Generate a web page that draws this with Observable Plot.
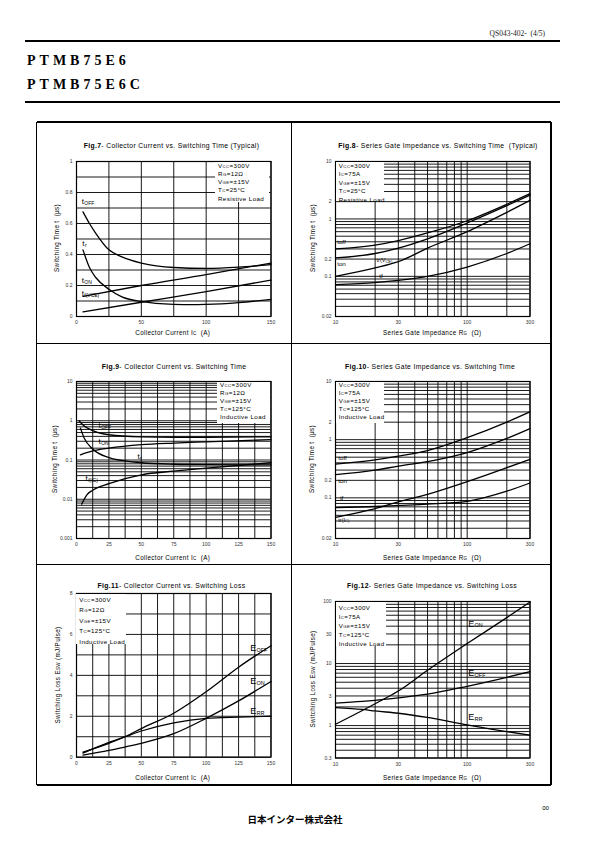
<!DOCTYPE html>
<html>
<head>
<meta charset="utf-8">
<script src="https://cdn.jsdelivr.net/npm/d3@7"></script>
<script src="https://cdn.jsdelivr.net/npm/@observablehq/plot@0.6"></script>
<style>
html,body{margin:0;padding:0;background:#fff;}
#page{position:relative;width:595px;height:842px;overflow:hidden;background:#fff;font-family:"Liberation Sans",Arial,Helvetica,sans-serif;color:#000;}
.a{position:absolute;white-space:nowrap;}
.s{font-size:70%;}
.hl{position:absolute;background:#000;}
.lg{position:absolute;background:#fff;font-size:6.2px;letter-spacing:0.4px;box-sizing:border-box;white-space:nowrap;}
</style>
</head>
<body>
<div id="page"></div>
<script>
const FONT = '"Liberation Sans", Arial, Helvetica, sans-serif';

// ---------- Fig.7 : Collector current vs switching time (typical) ----------
const f7_toff_ic = [5, 10, 15, 25, 35, 50, 75, 100, 125, 150];
const f7_toff_t  = [0.675, 0.6, 0.535, 0.43, 0.385, 0.345, 0.316, 0.31, 0.318, 0.335];
const f7_tr_ic   = [5, 10, 15, 25, 35, 50, 75, 90, 100, 125, 150];
const f7_tr_t    = [0.43, 0.316, 0.25, 0.176, 0.127, 0.097, 0.078, 0.076, 0.078, 0.09, 0.11];
const f7_ton_ic  = [5, 50, 100, 150];
const f7_ton_t   = [0.13, 0.2, 0.27, 0.345];
const f7_tf_ic   = [5, 50, 100, 150];
const f7_tf_t    = [0.03, 0.092, 0.16, 0.235];

// ---------- Fig.8 : Series gate impedance vs switching time (typical) ----------
const f8_rg   = [10, 20, 30, 50, 100, 200, 300];
const f8_toff = [0.3, 0.35, 0.42, 0.57, 0.93, 1.8, 2.75];
const f8_ton  = [0.21, 0.25, 0.31, 0.45, 0.85, 1.7, 2.6];
const f8_tr   = [0.1, 0.14, 0.18, 0.31, 0.6, 1.3, 2.1];
const f8_tf   = [0.072, 0.078, 0.085, 0.1, 0.145, 0.25, 0.37];

// ---------- Fig.9 : Collector current vs switching time ----------
const f9_toff_ic = [2, 5, 12.5, 25, 50, 75, 100, 150];
const f9_toff_t  = [1.0, 0.78, 0.56, 0.44, 0.39, 0.38, 0.38, 0.39];
const f9_ton_ic  = [3, 12.5, 25, 50, 75, 100, 150];
const f9_ton_t   = [0.135, 0.17, 0.2, 0.245, 0.27, 0.29, 0.33];
const f9_tr_ic   = [3, 6, 12.5, 25, 37.5, 50, 75, 100, 150];
const f9_tr_t    = [0.65, 0.36, 0.19, 0.115, 0.095, 0.085, 0.078, 0.076, 0.075];
const f9_tf_ic   = [4, 8, 12.5, 25, 50, 75, 100, 150];
const f9_tf_t    = [0.0075, 0.013, 0.017, 0.025, 0.042, 0.052, 0.062, 0.085];

// ---------- Fig.10 : Series gate impedance vs switching time ----------
const f10_rg   = [10, 20, 30, 50, 100, 200, 300];
const f10_toff = [0.38, 0.45, 0.52, 0.65, 1.08, 2.0, 3.0];
const f10_ton  = [0.25, 0.3, 0.35, 0.42, 0.6, 1.05, 1.55];
const f10_tf   = [0.046, 0.065, 0.085, 0.115, 0.19, 0.33, 0.46];
const f10_tr   = [0.068, 0.071, 0.074, 0.078, 0.087, 0.13, 0.18];

// ---------- Fig.11 : Collector current vs switching loss ----------
const f11_ic   = [5, 25, 37.5, 50, 75, 100, 125, 150];
const f11_eoff = [0.25, 0.68, 1.0, 1.4, 2.15, 3.2, 4.4, 5.45];
const f11_eon  = [0.1, 0.33, 0.5, 0.68, 1.15, 1.9, 2.75, 3.7];
const f11_err  = [0.2, 0.72, 1.0, 1.28, 1.68, 1.9, 1.96, 2.0];

// ---------- Fig.12 : Series gate impedance vs switching loss ----------
const f12_rg   = [10, 16, 20, 30, 50, 100, 200, 300];
const f12_eon  = [1.05, 1.75, 2.25, 3.6, 7.8, 21, 55, 98];
const f12_eoff = [2.3, 2.45, 2.55, 2.8, 3.2, 4.3, 6.0, 7.4];
const f12_err  = [1.95, 1.82, 1.72, 1.58, 1.35, 1.03, 0.8, 0.7];

// ---------- tick values ----------
const ticksIc50   = [0, 50, 100, 150];
const ticksIc25   = [0, 25, 50, 75, 100, 125, 150];
const gridIc25    = [0, 25, 50, 75, 100, 125, 150];
const gridIc12    = [0, 12.5, 25, 37.5, 50, 62.5, 75, 87.5, 100, 112.5, 125, 137.5, 150];
const ticksRg     = [10, 30, 100, 300];
const gridRg      = [10, 20, 30, 40, 50, 60, 70, 80, 90, 100, 200, 300];
const ticksT7     = [0, 0.2, 0.4, 0.6, 0.8, 1];
const gridT7      = [0, 0.1, 0.2, 0.3, 0.4, 0.5, 0.6, 0.7, 0.8, 0.9, 1];
const ticksTlog   = [0.02, 0.05, 0.1, 0.2, 0.5, 1, 2, 5, 10];
const ticksT9     = [0.001, 0.01, 0.1, 1, 10];
const ticksE11    = [0, 2, 4, 6, 8];
const gridE11     = [0, 1, 2, 3, 4, 5, 6, 7, 8];
const ticksE12    = [0.3, 1, 3, 10, 30, 100];

// log grid lines 1..9 per decade within [lo, hi]
function logGrid(lo, hi) {
  const out = [];
  for (let e = -4; e <= 3; e++) for (let k = 1; k <= 9; k++) {
    const v = +(k * Math.pow(10, e)).toPrecision(3);
    if (v >= lo - 1e-12 && v <= hi + 1e-12) out.push(v);
  }
  return out;
}

// ---------- legends ----------
const S = t => `<span class="s">${t}</span>`;
const leg7  = [`V${S("CC")}=300V`, `R${S("G")}=12Ω`, `V${S("GE")}=±15V`, `T${S("C")}=25°C`, `Resistive Load`];
const leg8  = [`V${S("CC")}=300V`, `I${S("C")}=75A`, `V${S("GE")}=±15V`, `T${S("C")}=25°C`, `Resistive Load`];
const leg9  = [`V${S("CC")}=300V`, `R${S("G")}=12Ω`, `V${S("GE")}=±15V`, `T${S("C")}=125°C`, `Inductive Load`];
const leg10 = [`V${S("CC")}=300V`, `I${S("C")}=75A`, `V${S("GE")}=±15V`, `T${S("C")}=125°C`, `Inductive Load`];
const leg11 = [`V${S("CC")}=300V`, `R${S("G")}=12Ω`, `V${S("GE")}=±15V`, `T${S("C")}=125°C`, `Inductive Load`];
const leg12 = [`V${S("CC")}=300V`, `I${S("C")}=75A`, `V${S("GE")}=±15V`, `T${S("C")}=125°C`, `Inductive Load`];

const page = document.getElementById("page");
function div(cls, css, html) {
  const d = document.createElement("div");
  if (cls) d.className = cls;
  d.style.cssText = css;
  d.innerHTML = html || "";
  page.appendChild(d);
  return d;
}
// text centred (anchor c), left (l) or right (r) at x, vertically centred at y
function txt(html, x, y, css, anchor) {
  const tr = anchor === "l" ? "translate(0,-50%)" : anchor === "r" ? "translate(-100%,-50%)" : "translate(-50%,-50%)";
  return div("a", `left:${x}px;top:${y}px;transform:${tr};${css || ""}`, html);
}
function vtxt(html, x, y, css) {
  return div("a", `left:${x}px;top:${y}px;transform:translate(-50%,-50%) rotate(-90deg);${css || ""}`, html);
}
function hline(x, y, w, t) { div("hl", `left:${x}px;top:${y - t / 2}px;width:${w}px;height:${t}px;`); }
function vline(x, y, h, t) { div("hl", `left:${x - t / 2}px;top:${y}px;width:${t}px;height:${h}px;`); }

const TITLE_CSS = "font-size:6.8px;letter-spacing:0.35px;";
const AXL_CSS = "font-size:6.3px;letter-spacing:0.35px;";

function chart(c) {
  const mL = 30, mR = 8, mT = 6, mB = 14;
  const w = c.x1 - c.x0, h = c.y1 - c.y0;
  const fmt = d3.format("~g");
  const marks = [
    Plot.ruleX(c.xGrid, {stroke: "#000", strokeWidth: 0.9}),
    Plot.ruleY(c.yGrid, {stroke: "#000", strokeWidth: 0.9})
  ];
  c.series.forEach(([xs, ys]) => {
    marks.push(Plot.line(xs.map((x, i) => ({x, y: ys[i]})),
      {x: "x", y: "y", curve: "monotone-x", stroke: "#000", strokeWidth: 1.3}));
  });
  marks.push(Plot.frame({stroke: "#000", strokeWidth: 1.2}));
  c.labels.forEach(L => {
    marks.push(Plot.text([L], {x: "x", y: "y", text: "m", textAnchor: "start", fontSize: L.fs, fill: "#000"}));
    if (L.s) marks.push(Plot.text([L], {x: "x", y: "y", text: "s", textAnchor: "start", fontSize: L.ss, dx: L.dx, dy: L.dy, fill: "#000"}));
  });
  const svg = Plot.plot({
    width: w + mL + mR, height: h + mT + mB,
    marginLeft: mL, marginRight: mR, marginTop: mT, marginBottom: mB,
    x: {type: c.xType, domain: c.xDomain, ticks: c.xTicks, tickFormat: fmt, tickSize: 0, tickPadding: 4, label: null},
    y: {type: c.yType, domain: c.yDomain, ticks: c.yTicks, tickFormat: fmt, tickSize: 0, tickPadding: 4, label: null},
    style: {fontFamily: FONT, fontSize: "5px", color: "#333", background: "none", overflow: "visible"},
    marks
  });
  svg.style.position = "absolute";
  svg.style.left = (c.x0 - mL) + "px";
  svg.style.top = (c.y0 - mT) + "px";
  page.appendChild(svg);
  // legend box
  const g = c.legend;
  div("lg", `left:${g.l}px;top:${g.t}px;width:${g.w}px;height:${g.h}px;line-height:${g.lh}px;padding:${g.pt}px 0 0 3px;`, g.lines.join("<br>"));
  // title, axis labels
  txt(c.title, c.tx, c.ty, TITLE_CSS);
  txt(c.xlabel, (c.x0 + c.x1) / 2, c.xly, AXL_CSS);
  vtxt(c.ylabel, c.ylx, (c.y0 + c.y1) / 2, AXL_CSS);
}

const tl = (x, y, s) => ({x, y, m: "t", s, fs: 8, ss: 5, dx: 2.6, dy: 1.8});
const el = (x, y, s) => ({x, y, m: "E", s, fs: 9, ss: 5.5, dx: 6.2, dy: 2});
const pl = (x, y, m) => ({x, y, m, fs: 6.2});

const L = 75.5, R = 270, L2 = 335, R2 = 529.5;
const sw = `Switching Time t&nbsp; (μs)`;
const icl = `Collector Current I${S("C")}&nbsp; (A)`;
const rgl = `Series Gate Impedance R${S("G")}&nbsp; (Ω)`;

chart({
  x0: L, x1: R, y0: 160.7, y1: 315.7,
  xType: "linear", xDomain: [0, 150], xTicks: ticksIc50, xGrid: gridIc25,
  yType: "linear", yDomain: [0, 1], yTicks: ticksT7, yGrid: gridT7,
  series: [[f7_toff_ic, f7_toff_t], [f7_tr_ic, f7_tr_t], [f7_ton_ic, f7_ton_t], [f7_tf_ic, f7_tf_t]],
  labels: [tl(4, 0.74, "OFF"), tl(4.5, 0.47, "r"), tl(4, 0.23, "ON"), tl(4, 0.15, "f(VCE)")],
  legend: {l: 215, t: 161.5, w: 54, h: 40.5, lh: 7.25, pt: 0, lines: leg7},
  title: `<b>Fig.7</b>- Collector Current vs. Switching Time (Typical)`, tx: 171.5, ty: 145,
  xlabel: icl, xly: 332, ylabel: sw, ylx: 56
});
chart({
  x0: L2, x1: R2, y0: 160.7, y1: 315.7,
  xType: "log", xDomain: [10, 300], xTicks: ticksRg, xGrid: gridRg,
  yType: "log", yDomain: [0.02, 10], yTicks: ticksTlog, yGrid: logGrid(0.02, 10),
  series: [[f8_rg, f8_toff], [f8_rg, f8_ton], [f8_rg, f8_tr], [f8_rg, f8_tf]],
  labels: [pl(10.3, 0.40, "toff"), pl(10.3, 0.165, "ton"),
           {x: 20.5, y: 0.19, m: "tr(V", s: "CE)", fs: 5.5, ss: 4, dx: 8.9, dy: 1}, pl(21.5, 0.1, "tf")],
  legend: {l: 335.7, t: 161.5, w: 48, h: 39, lh: 7.6, pt: 0, lines: leg8},
  title: `<b>Fig.8</b>- Series Gate Impedance vs. Switching Time&nbsp; (Typical)`, tx: 438, ty: 145,
  xlabel: rgl, xly: 332, ylabel: sw, ylx: 312
});
chart({
  x0: L, x1: R, y0: 380.7, y1: 537.7,
  xType: "linear", xDomain: [0, 150], xTicks: ticksIc25, xGrid: gridIc12,
  yType: "log", yDomain: [0.001, 10], yTicks: ticksT9, yGrid: logGrid(0.001, 10),
  series: [[f9_toff_ic, f9_toff_t], [f9_ton_ic, f9_ton_t], [f9_tr_ic, f9_tr_t], [f9_tf_ic, f9_tf_t]],
  labels: [tl(17, 0.75, "OFF"), tl(17, 0.29, "ON"), tl(47, 0.125, "r"), tl(7, 0.034, "f(IC)")],
  legend: {l: 217, t: 381.5, w: 52.5, h: 41.5, lh: 6.9, pt: 0.8, lines: leg9},
  title: `<b>Fig.9</b>- Collector Current vs. Switching Time`, tx: 174, ty: 365.7,
  xlabel: icl, xly: 556.7, ylabel: sw, ylx: 53.5
});
chart({
  x0: L2, x1: R2, y0: 380.7, y1: 537.7,
  xType: "log", xDomain: [10, 300], xTicks: ticksRg, xGrid: gridRg,
  yType: "log", yDomain: [0.02, 10], yTicks: ticksTlog, yGrid: logGrid(0.02, 10),
  series: [[f10_rg, f10_toff], [f10_rg, f10_ton], [f10_rg, f10_tf], [f10_rg, f10_tr]],
  labels: [pl(10.5, 0.48, "toff"), pl(10.5, 0.195, "ton"), pl(10.8, 0.1, "tf"),
           {x: 10.5, y: 0.042, m: "tr(I", s: "C)", fs: 5.5, ss: 4, dx: 6.8, dy: 1}],
  legend: {l: 335.7, t: 381.5, w: 48.5, h: 41.5, lh: 6.9, pt: 0.8, lines: leg10},
  title: `<b>Fig.10</b>- Series Gate Impedance vs. Switching Time`, tx: 430, ty: 365.7,
  xlabel: rgl, xly: 556.7, ylabel: sw, ylx: 311
});
chart({
  x0: L, x1: R, y0: 593.3, y1: 757,
  xType: "linear", xDomain: [0, 150], xTicks: ticksIc25, xGrid: gridIc12,
  yType: "linear", yDomain: [0, 8], yTicks: ticksE11, yGrid: gridE11,
  series: [[f11_ic, f11_eoff], [f11_ic, f11_eon], [f11_ic, f11_err]],
  labels: [el(134, 5.34, "OFF"), el(134, 3.7, "ON"), el(134, 2.25, "RR")],
  legend: {l: 76.3, t: 594, w: 50, h: 49.5, lh: 9.6, pt: 0.5, lines: leg11},
  title: `<b>Fig.11</b>- Collector Current vs. Switching Loss`, tx: 171.5, ty: 585,
  xlabel: icl, xly: 776.7, ylabel: `Switching Loss E${S("SW")} (mJ/Pulse)`, ylx: 57
});
chart({
  x0: L2, x1: R2, y0: 601, y1: 757.5,
  xType: "log", xDomain: [10, 300], xTicks: ticksRg, xGrid: gridRg,
  yType: "log", yDomain: [0.3, 100], yTicks: ticksE12, yGrid: logGrid(0.3, 100),
  series: [[f12_rg, f12_eon], [f12_rg, f12_eoff], [f12_rg, f12_err]],
  labels: [el(102, 44, "ON"), el(102, 7.1, "OFF"), el(102, 1.37, "RR")],
  legend: {l: 335.7, t: 601.8, w: 50, h: 44, lh: 8, pt: 2.5, lines: leg12},
  title: `<b>Fig.12</b>- Series Gate Impedance vs. Switching Loss`, tx: 432, ty: 585,
  xlabel: rgl, xly: 776.7, ylabel: `Switching Loss E${S("SW")} (mJ/Pulse)`, ylx: 312
});

// ---------- page frame ----------
const fw = 1.3;
hline(36.7, 122, 551 - 36.7, fw);
hline(36.7, 785, 551 - 36.7, fw);
vline(36.7, 122, 785 - 122, fw);
vline(551, 122, 785 - 122, fw);
vline(291.7, 122, 785 - 122, fw);
hline(36.7, 343.3, 551 - 36.7, fw);
hline(36.7, 564.5, 551 - 36.7, fw);

// ---------- header / footer ----------
txt("QS043-402-&nbsp; (4/5)", 545, 33, 'font-family:"Liberation Serif",serif;font-size:7.5px;color:#222;', "r");
hline(25, 41, 535, 2);
txt("PTMB75E6", 27, 60.5, 'font-family:"Liberation Serif",serif;font-weight:bold;font-size:14px;letter-spacing:4px;', "l");
txt("PTMB75E6C", 27, 84.5, 'font-family:"Liberation Serif",serif;font-weight:bold;font-size:14px;letter-spacing:4px;', "l");
hline(25, 102, 535, 2);
txt("00", 545.5, 808, "font-size:6px;");
txt("日本インター株式会社", 295, 818.5, 'font-family:"Noto Sans CJK JP",sans-serif;font-weight:bold;font-size:9.5px;');
</script>
</body>
</html>
